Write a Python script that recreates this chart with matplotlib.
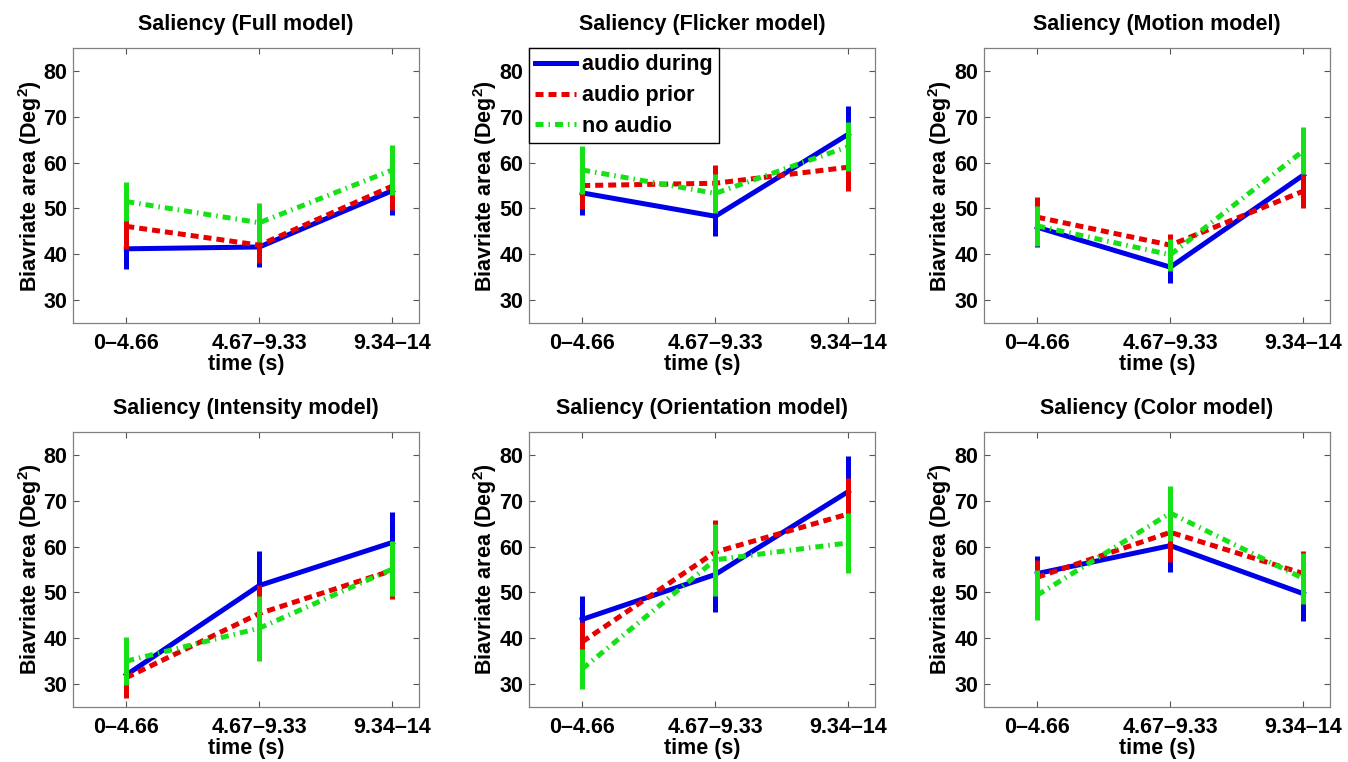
import matplotlib
matplotlib.use("Agg")
import matplotlib.pyplot as plt

plt.rcParams['font.family'] = ['Liberation Sans', 'DejaVu Sans']
plt.rcParams['font.weight'] = 'bold'
plt.rcParams['mathtext.fontset'] = 'custom'
plt.rcParams['mathtext.rm'] = 'Liberation Sans:bold'
plt.rcParams['mathtext.bf'] = 'Liberation Sans:bold'

time_bins = ["0\u20134.66", "4.67\u20139.33", "9.34\u201314"]
conditions = ["audio during", "audio prior", "no audio"]

titles = [
    "Saliency (Full model)", "Saliency (Flicker model)", "Saliency (Motion model)",
    "Saliency (Intensity model)", "Saliency (Orientation model)", "Saliency (Color model)",
]

# mean bivariate area per time bin: [audio during, audio prior, no audio]
full_mean = [[41.2, 41.6, 53.9], [46.1, 42.0, 54.9], [51.5, 46.9, 58.4]]
full_err = [[4.3, 4.4, 5.3], [4.9, 4.0, 5.3], [4.2, 4.3, 5.5]]

flicker_mean = [[53.4, 48.3, 66.2], [55.0, 55.5, 59.0], [58.4, 53.3, 63.5]]
flicker_err = [[4.8, 4.2, 6.1], [5.1, 4.0, 5.2], [5.3, 4.2, 5.3]]

motion_mean = [[45.9, 37.2, 57.3], [48.1, 42.0, 53.8], [46.2, 39.9, 62.6]]
motion_err = [[4.2, 3.4, 4.0], [4.4, 2.5, 3.7], [4.3, 3.5, 5.1]]

intensity_mean = [[32.0, 51.5, 60.9], [31.4, 45.4, 54.8], [35.0, 42.2, 55.1]]
intensity_err = [[2.0, 7.6, 6.6], [4.5, 6.3, 6.2], [5.2, 7.1, 6.0]]

orientation_mean = [[44.1, 53.9, 72.0], [39.2, 58.8, 67.1], [33.3, 57.1, 60.8]]
orientation_err = [[5.0, 8.2, 7.8], [4.4, 6.9, 7.8], [4.3, 7.8, 6.6]]

color_mean = [[54.1, 60.2, 49.7], [53.3, 63.1, 54.1], [49.4, 67.3, 53.0]]
color_err = [[3.9, 5.8, 5.9], [3.7, 6.5, 4.9], [5.5, 6.0, 5.5]]

panel_means = [full_mean, flicker_mean, motion_mean, intensity_mean, orientation_mean, color_mean]
panel_errs = [full_err, flicker_err, motion_err, intensity_err, orientation_err, color_err]

line_colors = ["#0000e6", "#e60000", "#16e016"]
line_styles = ["-", (0, (1.6, 1.0)), (0, (1.6, 1.0, 0.3, 1.0))]

fig = plt.figure(figsize=(13.48, 7.62), dpi=100)

lefts = [0.0542, 0.3924, 0.730]
bottoms = [0.576, 0.0722]
width, height = 0.2567, 0.361

x = [1, 2, 3]
LW = 3.6
FS = 15.5
for k in range(6):
    r, c = divmod(k, 3)
    ax = fig.add_axes([lefts[c], bottoms[r], width, height])
    handles = []
    for s in range(3):
        eb = ax.errorbar(x, panel_means[k][s], yerr=panel_errs[k][s],
                         color=line_colors[s], lw=LW, elinewidth=LW, capsize=0,
                         ls=line_styles[s], zorder=2 + s)
        handles.append(eb.lines[0])
    ax.set_xlim(0.6, 3.2)
    ax.set_ylim(25, 85)
    ax.set_yticks([30, 40, 50, 60, 70, 80])
    ax.set_xticks(x)
    ax.set_xticklabels(time_bins)
    ax.tick_params(direction='in', top=True, right=True, length=4, width=0.8,
                   color='#555555', labelsize=FS)
    ax.tick_params(axis='x', pad=7)
    ax.tick_params(axis='y', pad=4)
    for lab in ax.get_xticklabels() + ax.get_yticklabels():
        lab.set_fontweight('bold')
    for sp in ax.spines.values():
        sp.set_color('#808080')
        sp.set_linewidth(0.9)
    ax.set_title(titles[k], fontsize=15.5, fontweight='bold', pad=13)
    ax.set_xlabel("time (s)", fontsize=FS, fontweight='bold', labelpad=0)
    ax.set_ylabel(r"Biavriate area (Deg$^{\mathbf{2}}$)", fontsize=FS,
                  fontweight='bold', labelpad=0)
    if k == 1:
        leg = ax.legend(handles, conditions, loc='upper left', fontsize=FS,
                        frameon=True, fancybox=False, borderaxespad=0,
                        handlelength=1.9, handletextpad=0.25, labelspacing=0.45,
                        borderpad=0.3)
        leg.get_frame().set_edgecolor('black')
        leg.get_frame().set_linewidth(1.0)
        leg.get_frame().set_alpha(1.0)
        leg.set_zorder(10)
        for t in leg.get_texts():
            t.set_fontweight('bold')

fig.savefig("out.png", dpi=100, facecolor='white')
